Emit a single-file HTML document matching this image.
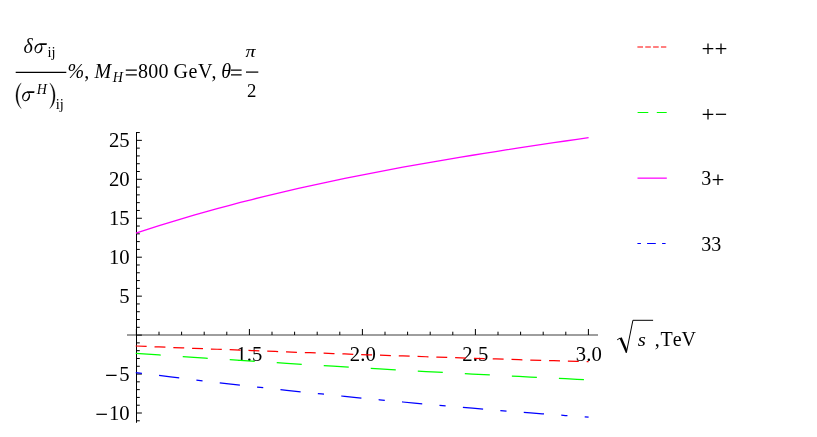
<!DOCTYPE html>
<html><head><meta charset="utf-8"><title>plot</title>
<style>
html,body{margin:0;padding:0;background:#fff;}
svg{display:block;will-change:transform;}
text{font-family:"Liberation Serif",serif;font-size:20px;fill:#000;font-kerning:none;}
.i{font-style:italic;}
.s{font-size:14.5px;}
</style></head><body>
<svg width="817" height="437" viewBox="0 0 817 437">
<rect width="817" height="437" fill="#fff"/>

<g stroke="#000" stroke-width="1" fill="none">
<line x1="127" y1="335" x2="598" y2="335" stroke-opacity="0.76"/>
<line x1="136.5" y1="132" x2="136.5" y2="422.8"/>
<line x1="136.5" y1="420.79" x2="139.80" y2="420.79"/>
<line x1="136.5" y1="413.00" x2="141.90" y2="413.00"/>
<line x1="136.5" y1="405.21" x2="139.80" y2="405.21"/>
<line x1="136.5" y1="397.42" x2="139.80" y2="397.42"/>
<line x1="136.5" y1="389.63" x2="139.80" y2="389.63"/>
<line x1="136.5" y1="381.84" x2="139.80" y2="381.84"/>
<line x1="136.5" y1="374.05" x2="141.90" y2="374.05"/>
<line x1="136.5" y1="366.26" x2="139.80" y2="366.26"/>
<line x1="136.5" y1="358.47" x2="139.80" y2="358.47"/>
<line x1="136.5" y1="350.68" x2="139.80" y2="350.68"/>
<line x1="136.5" y1="342.89" x2="139.80" y2="342.89"/>
<line x1="136.5" y1="335.10" x2="141.90" y2="335.10"/>
<line x1="136.5" y1="327.31" x2="139.80" y2="327.31"/>
<line x1="136.5" y1="319.52" x2="139.80" y2="319.52"/>
<line x1="136.5" y1="311.73" x2="139.80" y2="311.73"/>
<line x1="136.5" y1="303.94" x2="139.80" y2="303.94"/>
<line x1="136.5" y1="296.15" x2="141.90" y2="296.15"/>
<line x1="136.5" y1="288.36" x2="139.80" y2="288.36"/>
<line x1="136.5" y1="280.57" x2="139.80" y2="280.57"/>
<line x1="136.5" y1="272.78" x2="139.80" y2="272.78"/>
<line x1="136.5" y1="264.99" x2="139.80" y2="264.99"/>
<line x1="136.5" y1="257.20" x2="141.90" y2="257.20"/>
<line x1="136.5" y1="249.41" x2="139.80" y2="249.41"/>
<line x1="136.5" y1="241.62" x2="139.80" y2="241.62"/>
<line x1="136.5" y1="233.83" x2="139.80" y2="233.83"/>
<line x1="136.5" y1="226.04" x2="139.80" y2="226.04"/>
<line x1="136.5" y1="218.25" x2="141.90" y2="218.25"/>
<line x1="136.5" y1="210.46" x2="139.80" y2="210.46"/>
<line x1="136.5" y1="202.67" x2="139.80" y2="202.67"/>
<line x1="136.5" y1="194.88" x2="139.80" y2="194.88"/>
<line x1="136.5" y1="187.09" x2="139.80" y2="187.09"/>
<line x1="136.5" y1="179.30" x2="141.90" y2="179.30"/>
<line x1="136.5" y1="171.51" x2="139.80" y2="171.51"/>
<line x1="136.5" y1="163.72" x2="139.80" y2="163.72"/>
<line x1="136.5" y1="155.93" x2="139.80" y2="155.93"/>
<line x1="136.5" y1="148.14" x2="139.80" y2="148.14"/>
<line x1="136.5" y1="140.35" x2="141.90" y2="140.35"/>
<line x1="136.5" y1="132.56" x2="139.80" y2="132.56"/>
<line x1="136.40" y1="335" x2="136.40" y2="329.00"/>
<line x1="159.00" y1="335" x2="159.00" y2="331.70"/>
<line x1="181.60" y1="335" x2="181.60" y2="331.70"/>
<line x1="204.20" y1="335" x2="204.20" y2="331.70"/>
<line x1="226.80" y1="335" x2="226.80" y2="331.70"/>
<line x1="249.40" y1="335" x2="249.40" y2="329.00"/>
<line x1="272.00" y1="335" x2="272.00" y2="331.70"/>
<line x1="294.60" y1="335" x2="294.60" y2="331.70"/>
<line x1="317.20" y1="335" x2="317.20" y2="331.70"/>
<line x1="339.80" y1="335" x2="339.80" y2="331.70"/>
<line x1="362.40" y1="335" x2="362.40" y2="329.00"/>
<line x1="385.00" y1="335" x2="385.00" y2="331.70"/>
<line x1="407.60" y1="335" x2="407.60" y2="331.70"/>
<line x1="430.20" y1="335" x2="430.20" y2="331.70"/>
<line x1="452.80" y1="335" x2="452.80" y2="331.70"/>
<line x1="475.40" y1="335" x2="475.40" y2="329.00"/>
<line x1="498.00" y1="335" x2="498.00" y2="331.70"/>
<line x1="520.60" y1="335" x2="520.60" y2="331.70"/>
<line x1="543.20" y1="335" x2="543.20" y2="331.70"/>
<line x1="565.80" y1="335" x2="565.80" y2="331.70"/>
<line x1="588.40" y1="335" x2="588.40" y2="329.00"/>
</g>
<text x="129.7" y="147.35" style="font-size:20.7px;" text-anchor="end">25</text>
<text x="129.7" y="186.3" style="font-size:20.7px;" text-anchor="end">20</text>
<text x="129.7" y="225.25" style="font-size:20.7px;" text-anchor="end">15</text>
<text x="129.7" y="264.2" style="font-size:20.7px;" text-anchor="end">10</text>
<text x="129.7" y="303.15" style="font-size:20.7px;" text-anchor="end">5</text>
<text x="129.7" y="381.05" style="font-size:20.7px;" text-anchor="end">5</text>
<path d="M106.10,375.35 H116.60" stroke="#000" stroke-width="1.25" fill="none"/>
<text x="129.7" y="420.0" style="font-size:20.7px;" text-anchor="end">10</text>
<path d="M96.40,414.30 H106.90" stroke="#000" stroke-width="1.25" fill="none"/>
<text x="249.3" y="360.6" style="font-size:20.7px;" text-anchor="middle">1.5</text>
<text x="362.8" y="360.6" style="font-size:20.7px;" text-anchor="middle">2.0</text>
<text x="475.3" y="360.6" style="font-size:20.7px;" text-anchor="middle">2.5</text>
<text x="588.8" y="360.6" style="font-size:20.7px;" text-anchor="middle">3.0</text>
<path d="M135.90,233.09 L147.51,229.31 L159.12,225.62 L170.72,222.04 L182.33,218.55 L193.94,215.16 L205.55,211.86 L217.15,208.65 L228.76,205.52 L240.37,202.48 L251.98,199.52 L263.58,196.64 L275.19,193.83 L286.80,191.10 L298.41,188.43 L310.02,185.84 L321.62,183.31 L333.23,180.84 L344.84,178.43 L356.45,176.08 L368.05,173.79 L379.66,171.55 L391.27,169.36 L402.88,167.21 L414.48,165.12 L426.09,163.06 L437.70,161.05 L449.31,159.08 L460.92,157.14 L472.52,155.24 L484.13,153.37 L495.74,151.53 L507.35,149.72 L518.95,147.93 L530.56,146.17 L542.17,144.42 L553.78,142.70 L565.38,140.99 L576.99,139.29 L588.60,137.61" fill="none" stroke="#ff00ff" stroke-width="1.3"/>
<path d="M135.75,346.00 L147.36,346.48 L158.97,346.95 L170.58,347.42 L182.20,347.88 L193.81,348.34 L205.42,348.80 L217.03,349.25 L228.64,349.70 L240.25,350.15 L251.87,350.59 L263.48,351.02 L275.09,351.46 L286.70,351.89 L298.31,352.31 L309.92,352.74 L321.53,353.15 L333.15,353.57 L344.76,353.98 L356.37,354.39 L367.98,354.79 L379.59,355.19 L391.20,355.58 L402.82,355.97 L414.43,356.36 L426.04,356.75 L437.65,357.13 L449.26,357.50 L460.87,357.87 L472.48,358.24 L484.10,358.61 L495.71,358.97 L507.32,359.32 L518.93,359.68 L530.54,360.03 L542.15,360.37 L553.77,360.71 L565.38,361.05 L576.99,361.38 L588.60,361.71" fill="none" stroke="#ff0000" stroke-width="1.25" stroke-dasharray="10.9 7.9"/>
<path d="M135.75,353.34 L147.36,354.16 L158.97,354.96 L170.58,355.76 L182.20,356.55 L193.81,357.34 L205.42,358.12 L217.03,358.89 L228.64,359.65 L240.25,360.41 L251.87,361.16 L263.48,361.90 L275.09,362.64 L286.70,363.36 L298.31,364.08 L309.92,364.80 L321.53,365.50 L333.15,366.20 L344.76,366.90 L356.37,367.58 L367.98,368.26 L379.59,368.93 L391.20,369.60 L402.82,370.25 L414.43,370.90 L426.04,371.55 L437.65,372.18 L449.26,372.81 L460.87,373.43 L472.48,374.05 L484.10,374.65 L495.71,375.25 L507.32,375.85 L518.93,376.43 L530.54,377.01 L542.15,377.58 L553.77,378.15 L565.38,378.71 L576.99,379.26 L588.60,379.80" fill="none" stroke="#00ff00" stroke-width="1.25" stroke-dasharray="25.05 22.05"/>
<path d="M135.75,372.56 L147.36,374.02 L158.97,375.47 L170.58,376.90 L182.20,378.32 L193.81,379.72 L205.42,381.10 L217.03,382.46 L228.64,383.81 L240.25,385.14 L251.87,386.46 L263.48,387.75 L275.09,389.03 L286.70,390.30 L298.31,391.54 L309.92,392.77 L321.53,393.99 L333.15,395.18 L344.76,396.36 L356.37,397.52 L367.98,398.67 L379.59,399.80 L391.20,400.91 L402.82,402.00 L414.43,403.08 L426.04,404.14 L437.65,405.18 L449.26,406.21 L460.87,407.22 L472.48,408.21 L484.10,409.19 L495.71,410.15 L507.32,411.09 L518.93,412.02 L530.54,412.92 L542.15,413.82 L553.77,414.69 L565.38,415.55 L576.99,416.39 L588.60,417.21" fill="none" stroke="#0000ff" stroke-width="1.25" stroke-dasharray="6.2 17.3 20.3 17.3"/>
<g fill="none">
<line x1="637.4" y1="47.0" x2="666.3" y2="47.0" stroke="#ff0000" stroke-width="1.15" stroke-dasharray="5.6 2.25"/>
<line x1="637.6" y1="112.5" x2="666.7" y2="112.5" stroke="#00ff00" stroke-width="1.15" stroke-dasharray="10.7 8.5"/>
<line x1="637.5" y1="178.15" x2="666.8" y2="178.15" stroke="#ff00ff" stroke-width="1.25"/>
<line x1="637.4" y1="243.5" x2="666.2" y2="243.5" stroke="#0000ff" stroke-width="1.15" stroke-dasharray="3.5 6.2 8.7 6.3"/>
</g>
<path d="M702.70,48.70 H713.30 M708.00,43.50 V53.90" stroke="#000" stroke-width="1.25" fill="none"/>
<path d="M715.70,48.70 H726.30 M721.00,43.50 V53.90" stroke="#000" stroke-width="1.25" fill="none"/>
<path d="M702.70,114.30 H713.30 M708.00,109.10 V119.50" stroke="#000" stroke-width="1.25" fill="none"/>
<path d="M715.90,114.30 H726.10" stroke="#000" stroke-width="1.25" fill="none"/>
<text x="701.3" y="185.1">3</text>
<path d="M712.70,179.70 H723.30 M718.00,174.50 V184.90" stroke="#000" stroke-width="1.25" fill="none"/>
<text x="701.3" y="250.6">33</text>
<path d="M617.2,339.8 L620.2,338.0" fill="none" stroke="#000" stroke-width="1"/>
<path d="M619.5,338.4 L621.7,337.3 L627.0,349.6 L626.6,352.9 L625.9,352.9 Z" fill="#000"/>
<path d="M626.4,352.6 L632.9,320.3 L653.1,320.3" fill="none" stroke="#000" stroke-width="1"/>
<text transform="translate(637.8,345.7) scale(1.04,0.93)" class="i">s</text>
<text x="654.8" y="345.7">,</text>
<text x="660.6" y="345.7" style="letter-spacing:-0.15px;">TeV</text>
<line x1="15.7" y1="72.3" x2="66.3" y2="72.3" stroke="#000" stroke-width="1.25"/>
<text x="23.6" y="53.0" class="i">δ</text>
<g transform="translate(34.3,52.9)"><ellipse cx="4.15" cy="-4.45" rx="3.9" ry="4.75" transform="rotate(18 4.15 -4.45)" fill="#000"/><ellipse cx="4.15" cy="-4.45" rx="2.35" ry="3.95" transform="rotate(24 4.15 -4.45)" fill="#fff"/><path d="M4.6,-9.55 L12.6,-9.55 L12.3,-8.0 L6.0,-8.0 Z" fill="#000"/></g>
<text x="47.4" y="56.6" class="s">ij</text>
<path d="M21.2,82.9 C14.2,89 14.2,102.4 21.2,108.5 C16.3,102 16.3,89.4 21.2,82.9 Z" fill="#000" stroke="#000" stroke-width="0.3"/>
<path d="M49.8,82.9 C56.8,89 56.8,102.4 49.8,108.5 C54.7,102 54.7,89.4 49.8,82.9 Z" fill="#000" stroke="#000" stroke-width="0.3"/>
<g transform="translate(21.9,100.9)"><ellipse cx="4.15" cy="-4.45" rx="3.9" ry="4.75" transform="rotate(18 4.15 -4.45)" fill="#000"/><ellipse cx="4.15" cy="-4.45" rx="2.35" ry="3.95" transform="rotate(24 4.15 -4.45)" fill="#fff"/><path d="M4.6,-9.55 L12.6,-9.55 L12.3,-8.0 L6.0,-8.0 Z" fill="#000"/></g>
<text x="36.7" y="93.6" class="i s" style="font-size:14px;">H</text>
<text x="55.8" y="109.4" class="s">ij</text>
<text x="67.6" y="77.6" class="i">%</text>
<text x="84.3" y="77.6">,</text>
<text x="94.5" y="77.6" class="i">M</text>
<text x="112.8" y="81.8" class="i s" style="font-size:14px;">H</text>
<path d="M125.8,70.1 H136.8 M125.8,74.75 H136.8" stroke="#000" stroke-width="1.25" fill="none"/>
<text x="137.9" y="77.6" style="letter-spacing:0.3px;">800</text>
<text x="173.6" y="77.6" style="letter-spacing:0.5px;">GeV</text>
<text x="211.6" y="77.6">,</text>
<text x="221.3" y="77.6" class="i">θ</text>
<path d="M231.0,70.1 H241.6 M231.0,74.75 H241.6" stroke="#000" stroke-width="1.25" fill="none"/>
<line x1="246" y1="72.1" x2="258.3" y2="72.1" stroke="#000" stroke-width="1.25"/>
<text transform="translate(245.6,57.1) scale(1,0.82)" class="i">π</text>
<text x="247.0" y="97.4" style="font-size:18.8px;">2</text>
</svg></body></html>
